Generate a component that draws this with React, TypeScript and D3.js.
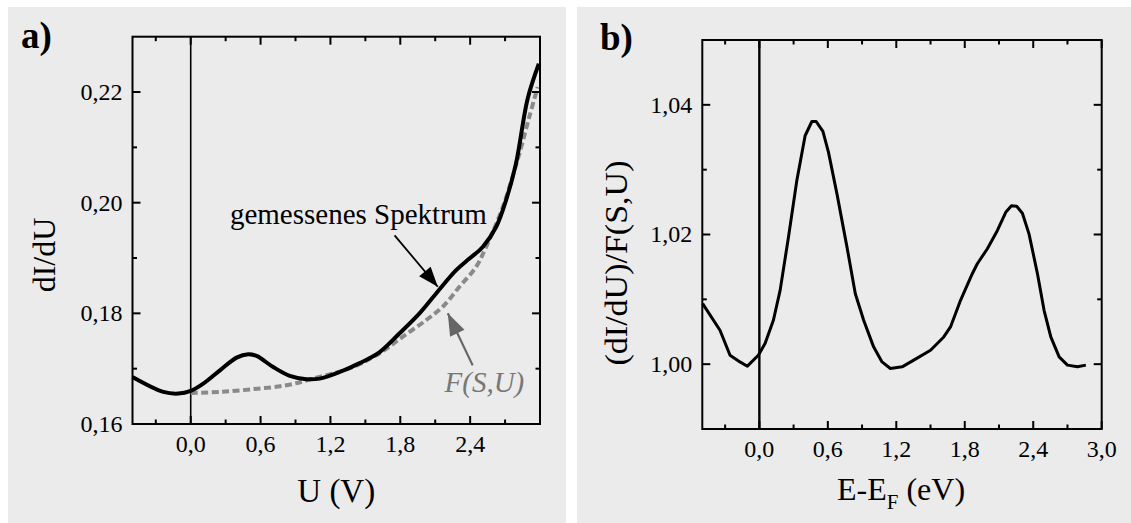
import React from "react";
import * as d3 from "d3";

// Panel a: measured tunnelling spectrum dI/dU and the background function F(S,U)
const measuredU = [-0.5, -0.235, -0.106, 0, 0.108, 0.251, 0.394, 0.494, 0.566, 0.708, 0.851, 0.994, 1.108, 1.28, 1.451, 1.623, 1.794, 1.965, 2.108, 2.28, 2.394, 2.508, 2.623, 2.708, 2.794, 2.894, 2.99];
const measuredDIdU = [0.1685, 0.1658, 0.1655, 0.166, 0.1673, 0.1697, 0.172, 0.1726, 0.1723, 0.1703, 0.1687, 0.1681, 0.1682, 0.1694, 0.171, 0.173, 0.1764, 0.18, 0.1836, 0.1878, 0.1899, 0.192, 0.1956, 0.2004, 0.2071, 0.2188, 0.2251];

const fitU = [0, 0.251, 0.537, 0.823, 1.051, 1.394, 1.623, 1.823, 2.023, 2.165, 2.308, 2.451, 2.537, 2.68, 2.823, 2.908, 2.98];
const fitF = [0.1656, 0.1658, 0.1663, 0.167, 0.1682, 0.1703, 0.1728, 0.1758, 0.1788, 0.1812, 0.1848, 0.1884, 0.192, 0.1992, 0.2089, 0.2155, 0.2209];

// Panel b: normalised spectrum (dI/dU)/F(S,U)
const energy = [-0.497, -0.345, -0.257, -0.17, -0.105, -0.009, 0.05, 0.123, 0.182, 0.255, 0.328, 0.401, 0.46, 0.498, 0.557, 0.606, 0.68, 0.768, 0.841, 0.914, 1.001, 1.075, 1.148, 1.251, 1.353, 1.5, 1.616, 1.675, 1.763, 1.866, 1.91, 1.998, 2.086, 2.159, 2.209, 2.255, 2.305, 2.363, 2.437, 2.495, 2.554, 2.627, 2.7, 2.788, 2.861];
const ratio = [1.00934, 1.00523, 1.00138, 1.00035, 0.99969, 1.00138, 1.00318, 1.00677, 1.01138, 1.01958, 1.0283, 1.03523, 1.03743, 1.03743, 1.0359, 1.03267, 1.02626, 1.01805, 1.01087, 1.00677, 1.00267, 1.00035, 0.99933, 0.99959, 1.00062, 1.00215, 1.0042, 1.00574, 1.00985, 1.01395, 1.01549, 1.0178, 1.02062, 1.02343, 1.02442, 1.02435, 1.02328, 1.0201, 1.01395, 1.00831, 1.0042, 1.00112, 0.99985, 0.99959, 0.99985];

// Ticks
const aXMajor = [0, 0.6, 1.2, 1.8, 2.4];
const aXLabels = ["0,0", "0,6", "1,2", "1,8", "2,4"];
const aXMinor = [-0.3, 0.3, 0.9, 1.5, 2.1, 2.7];
const aYMajor = [0.16, 0.18, 0.2, 0.22];
const aYLabels = ["0,16", "0,18", "0,20", "0,22"];
const aYMinor = [0.17, 0.19, 0.21];

const bXMajor = [0, 0.6, 1.2, 1.8, 2.4, 3.0];
const bXLabels = ["0,0", "0,6", "1,2", "1,8", "2,4", "3,0"];
const bXMinor = [-0.3, 0.3, 0.9, 1.5, 2.1, 2.7];
const bYMajor = [1.0, 1.02, 1.04];
const bYLabels = ["1,00", "1,02", "1,04"];
const bYMinor = [1.01, 1.03];

const GRAY_BG = "#ebebeb";

type FrameProps = {
  x: d3.ScaleLinear<number, number>;
  y: d3.ScaleLinear<number, number>;
  xMajor: number[];
  xLabels: string[];
  xMinor: number[];
  yMajor: number[];
  yLabels: string[];
  yMinor: number[];
};

function Frame({ x, y, xMajor, xLabels, xMinor, yMajor, yLabels, yMinor }: FrameProps) {
  const [x0, x1] = x.range();
  const [y0, y1] = y.range(); // y0 bottom, y1 top
  const maj = 8;
  const min = 4.5;
  return (
    <g>
      <rect x={x0} y={y1} width={x1 - x0} height={y0 - y1} fill="none" stroke="#000" strokeWidth={2} />
      {xMajor.map((v) => (
        <g key={"xm" + v}>
          <line x1={x(v)} x2={x(v)} y1={y0} y2={y0 - maj} stroke="#000" strokeWidth={2} />
          <line x1={x(v)} x2={x(v)} y1={y1} y2={y1 + maj} stroke="#000" strokeWidth={2} />
        </g>
      ))}
      {xMinor.map((v) => (
        <g key={"xn" + v}>
          <line x1={x(v)} x2={x(v)} y1={y0} y2={y0 - min} stroke="#000" strokeWidth={2} />
          <line x1={x(v)} x2={x(v)} y1={y1} y2={y1 + min} stroke="#000" strokeWidth={2} />
        </g>
      ))}
      {yMajor.map((v) => (
        <g key={"ym" + v}>
          <line x1={x0} x2={x0 + maj} y1={y(v)} y2={y(v)} stroke="#000" strokeWidth={2} />
          <line x1={x1} x2={x1 - maj} y1={y(v)} y2={y(v)} stroke="#000" strokeWidth={2} />
        </g>
      ))}
      {yMinor.map((v) => (
        <g key={"yn" + v}>
          <line x1={x0} x2={x0 + min} y1={y(v)} y2={y(v)} stroke="#000" strokeWidth={2} />
          <line x1={x1} x2={x1 - min} y1={y(v)} y2={y(v)} stroke="#000" strokeWidth={2} />
        </g>
      ))}
      {xMajor.map((v, i) => (
        <text key={"xl" + v} x={x(v)} y={y0 + 28} textAnchor="middle" fontSize={24} fill="#000">
          {xLabels[i]}
        </text>
      ))}
      {yMajor.map((v, i) => (
        <text key={"yl" + v} x={x0 - 10} y={y(v)} dy="0.33em" textAnchor="end" fontSize={24} fill="#000">
          {yLabels[i]}
        </text>
      ))}
    </g>
  );
}

function arrowHead(tipX: number, tipY: number, fromX: number, fromY: number, len: number, half: number) {
  const dx = tipX - fromX;
  const dy = tipY - fromY;
  const d = Math.hypot(dx, dy);
  const ux = dx / d;
  const uy = dy / d;
  const bx = tipX - ux * len;
  const by = tipY - uy * len;
  return `M${tipX},${tipY}L${bx - uy * half},${by + ux * half}L${bx + uy * half},${by - ux * half}Z`;
}

export default function App() {
  // Panel a scales
  const ax = d3.scaleLinear().domain([-0.5, 3.0]).range([132.5, 540]);
  const ay = d3.scaleLinear().domain([0.16, 0.23]).range([424, 36.7]);
  // Panel b scales
  const bx = d3.scaleLinear().domain([-0.5, 3.0]).range([702.3, 1101.7]);
  const by = d3.scaleLinear().domain([0.99, 1.05]).range([429, 40]);

  const lineA = d3
    .line<number>()
    .x((_, i) => ax(measuredU[i]))
    .y((v) => ay(v))
    .curve(d3.curveCatmullRom.alpha(0.5));
  const lineF = d3
    .line<number>()
    .x((_, i) => ax(fitU[i]))
    .y((v) => ay(v))
    .curve(d3.curveCatmullRom.alpha(0.5));
  const lineB = d3
    .line<number>()
    .x((_, i) => bx(energy[i]))
    .y((v) => by(v))
    .curve(d3.curveLinear);

  // annotation arrows (data coordinates of panel a)
  const a1Tail = [ax(1.751), ay(0.1941)];
  const a1Tip = [ax(2.122), ay(0.1848)];
  const a2Tip = [ax(2.208), ay(0.18)];
  const a2Tail = [ax(2.422), ay(0.1706)];

  return (
    <div style={{ position: "absolute", left: 0, top: 0 }}>
      <svg width={1131} height={523} style={{ display: "block", fontFamily: '"Liberation Serif", "DejaVu Serif", serif' }}>
        <style>{`text { font-family: "Liberation Serif", "DejaVu Serif", serif; }`}</style>
        <rect x={0} y={0} width={1131} height={523} fill="#fff" />
        <rect x={8} y={7} width={558} height={516} fill={GRAY_BG} />
        <rect x={577} y={7} width={554} height={516} fill={GRAY_BG} />

        {/* Panel a */}
        <text x={21} y={48} fontSize={37} fontWeight="bold" fill="#000">a)</text>
        <line x1={ax(0)} x2={ax(0)} y1={ay(0.16)} y2={ay(0.23)} stroke="#000" strokeWidth={1.6} />
        <path d={lineF(fitF) || ""} fill="none" stroke="#8a8a8a" strokeWidth={4} strokeDasharray="7,3.5" />
        <path d={lineA(measuredDIdU) || ""} fill="none" stroke="#000" strokeWidth={4} strokeLinejoin="round" />
        <Frame x={ax} y={ay} xMajor={aXMajor} xLabels={aXLabels} xMinor={aXMinor} yMajor={aYMajor} yLabels={aYLabels} yMinor={aYMinor} />
        <text x={ax(0.337)} y={ay(0.1961)} fontSize={29} fill="#000">gemessenes Spektrum</text>
        <line x1={a1Tail[0]} y1={a1Tail[1]} x2={a1Tip[0]} y2={a1Tip[1]} stroke="#000" strokeWidth={1.8} />
        <path d={arrowHead(a1Tip[0], a1Tip[1], a1Tail[0], a1Tail[1], 20, 7.5)} fill="#000" />
        <line x1={a2Tail[0]} y1={a2Tail[1]} x2={a2Tip[0]} y2={a2Tip[1]} stroke="#666" strokeWidth={2.2} />
        <path d={arrowHead(a2Tip[0], a2Tip[1], a2Tail[0], a2Tail[1], 22, 8)} fill="#666" />
        <text x={ax(2.18)} y={ay(0.1658)} fontSize={29} fontStyle="italic" fill="#777">F(S,U)</text>
        <text x={(132.5 + 540) / 2} y={502} textAnchor="middle" fontSize={33} fill="#000">U (V)</text>
        <text transform="translate(55,255) rotate(-90)" textAnchor="middle" fontSize={32} fill="#000">dI/dU</text>

        {/* Panel b */}
        <text x={600} y={50} fontSize={37} fontWeight="bold" fill="#000">b)</text>
        <line x1={bx(0)} x2={bx(0)} y1={by(0.99)} y2={by(1.05)} stroke="#000" strokeWidth={2.4} />
        <path d={lineB(ratio) || ""} fill="none" stroke="#000" strokeWidth={3} strokeLinejoin="round" />
        <Frame x={bx} y={by} xMajor={bXMajor} xLabels={bXLabels} xMinor={bXMinor} yMajor={bYMajor} yLabels={bYLabels} yMinor={bYMinor} />
        <text x={901} y={500} textAnchor="middle" fontSize={32} fill="#000">
          E-E<tspan dy={9} fontSize={21}>F</tspan><tspan dy={-9}> (eV)</tspan>
        </text>
        <text transform="translate(627,263) rotate(-90)" textAnchor="middle" fontSize={31} textLength={205} lengthAdjust="spacingAndGlyphs" fill="#000">(dI/dU)/F(S,U)</text>
      </svg>
    </div>
  );
}
